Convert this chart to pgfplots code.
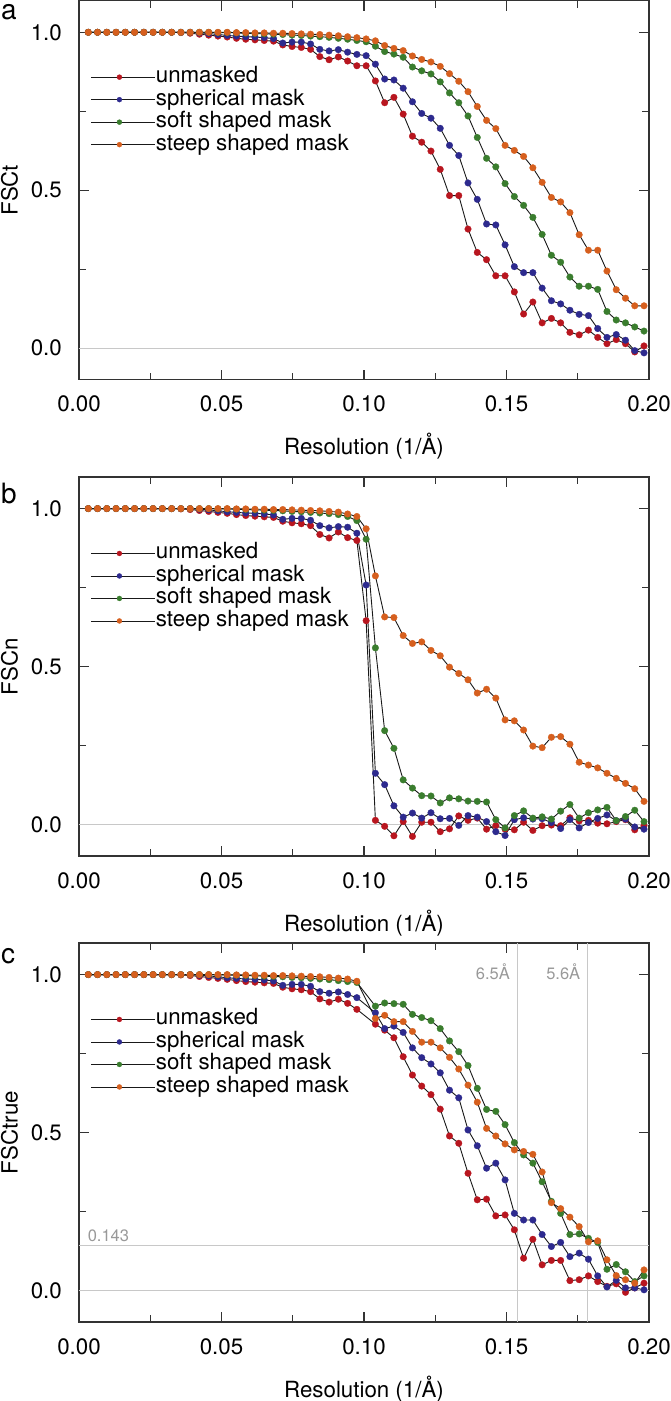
\documentclass[border=0pt]{standalone}
\usepackage{fontspec}
\setmainfont{TeX Gyre Heros}
\usepackage{pgfplots}
\usepackage{pgfplotstable}
\pgfplotsset{compat=1.18}
\definecolor{cred}{HTML}{B8161F}
\definecolor{cblue}{HTML}{2D2A8E}
\definecolor{cgreen}{HTML}{3A7D2E}
\definecolor{corange}{HTML}{D65F1E}
\definecolor{framec}{HTML}{333333}
\definecolor{refgray}{HTML}{C8C8C8}
\definecolor{labgray}{HTML}{999999}
\newcommand{\fs}{\fontsize{22.3pt}{26pt}\selectfont}
\newcommand{\fss}{\fontsize{16.5pt}{19pt}\selectfont}
\newcommand{\fsp}{\fontsize{28pt}{32pt}\selectfont}

% x = resolution (1/A); r = unmasked, b = spherical, g = soft shaped, o = steep shaped
\pgfplotstableread{
x r b g o
0.00325 1.000 1.000 1.000 1.000
0.00650 1.000 1.000 1.000 1.000
0.00975 1.000 1.000 1.000 1.000
0.01300 1.000 1.000 1.000 1.000
0.01625 1.000 1.000 1.000 1.000
0.01950 1.000 1.000 1.000 1.000
0.02275 1.000 1.000 1.000 1.000
0.02600 1.000 1.000 1.000 1.000
0.02925 1.000 1.000 1.000 1.000
0.03250 1.000 1.000 1.000 1.000
0.03575 0.999 1.000 1.000 1.000
0.03900 0.997 1.000 1.000 1.000
0.04225 0.994 0.998 1.000 1.000
0.04550 0.991 0.996 1.000 1.000
0.04875 0.988 0.993 0.999 1.000
0.05200 0.985 0.990 0.999 1.000
0.05525 0.981 0.988 0.998 0.999
0.05850 0.978 0.986 0.997 0.999
0.06175 0.976 0.985 0.996 0.998
0.06500 0.974 0.983 0.995 0.998
0.06825 0.972 0.980 0.994 0.997
0.07150 0.960 0.966 0.993 0.997
0.07475 0.955 0.969 0.991 0.996
0.07800 0.952 0.969 0.990 0.995
0.08125 0.946 0.963 0.988 0.994
0.08450 0.923 0.946 0.986 0.993
0.08775 0.913 0.941 0.984 0.991
0.09100 0.922 0.945 0.981 0.989
0.09425 0.909 0.937 0.978 0.986
0.09750 0.894 0.930 0.974 0.983
0.10075 0.894 0.926 0.970 0.979
0.10400 0.846 0.899 0.956 0.973
0.10725 0.777 0.852 0.939 0.958
0.11050 0.794 0.849 0.931 0.949
0.11375 0.741 0.823 0.921 0.942
0.11700 0.671 0.780 0.890 0.925
0.12025 0.652 0.743 0.878 0.914
0.12350 0.624 0.728 0.868 0.906
0.12675 0.566 0.696 0.843 0.892
0.13000 0.483 0.642 0.808 0.869
0.13325 0.483 0.610 0.777 0.845
0.13650 0.377 0.523 0.735 0.812
0.13975 0.303 0.471 0.667 0.765
0.14300 0.280 0.393 0.601 0.721
0.14625 0.229 0.390 0.574 0.695
0.14950 0.229 0.327 0.521 0.642
0.15275 0.178 0.258 0.480 0.626
0.15600 0.108 0.239 0.452 0.607
0.15925 0.146 0.239 0.414 0.571
0.16250 0.080 0.190 0.360 0.525
0.16575 0.094 0.150 0.294 0.477
0.16900 0.080 0.140 0.272 0.463
0.17225 0.050 0.120 0.225 0.429
0.17550 0.042 0.107 0.196 0.359
0.17875 0.057 0.103 0.196 0.310
0.18200 0.034 0.062 0.186 0.310
0.18525 0.014 0.034 0.116 0.244
0.18850 0.027 0.043 0.089 0.185
0.19175 0.014 0.025 0.080 0.158
0.19500 -0.012 -0.008 0.067 0.134
0.19825 0.007 -0.015 0.054 0.134
}\tabA

\pgfplotstableread{
x r b g o
0.00325 1.000 1.000 1.000 1.000
0.00650 1.000 1.000 1.000 1.000
0.00975 1.000 1.000 1.000 1.000
0.01300 1.000 1.000 1.000 1.000
0.01625 1.000 1.000 1.000 1.000
0.01950 1.000 1.000 1.000 1.000
0.02275 1.000 1.000 1.000 1.000
0.02600 1.000 1.000 1.000 1.000
0.02925 1.000 1.000 1.000 1.000
0.03250 1.000 1.000 1.000 1.000
0.03575 0.999 1.000 1.000 1.000
0.03900 0.997 1.000 1.000 1.000
0.04225 0.994 0.998 1.000 1.000
0.04550 0.991 0.996 1.000 1.000
0.04875 0.988 0.993 0.999 1.000
0.05200 0.985 0.990 0.999 1.000
0.05525 0.981 0.988 0.998 0.999
0.05850 0.978 0.986 0.997 0.999
0.06175 0.976 0.985 0.996 0.998
0.06500 0.974 0.983 0.995 0.998
0.06825 0.972 0.980 0.994 0.997
0.07150 0.960 0.966 0.993 0.997
0.07475 0.955 0.969 0.991 0.996
0.07800 0.952 0.969 0.990 0.995
0.08125 0.946 0.963 0.988 0.994
0.08450 0.918 0.946 0.986 0.993
0.08775 0.907 0.939 0.984 0.991
0.09100 0.926 0.943 0.981 0.989
0.09425 0.908 0.941 0.975 0.983
0.09750 0.899 0.922 0.962 0.975
0.10075 0.645 0.758 0.903 0.936
0.10400 0.013 0.162 0.559 0.787
0.10725 -0.006 0.126 0.297 0.657
0.11050 -0.036 0.059 0.241 0.655
0.11375 0.009 0.023 0.141 0.598
0.11700 -0.038 0.036 0.115 0.573
0.12025 0.007 0.020 0.091 0.578
0.12350 0.007 0.037 0.090 0.551
0.12675 -0.023 0.018 0.068 0.534
0.13000 -0.014 0.019 0.084 0.498
0.13325 0.027 -0.003 0.081 0.478
0.13650 0.013 0.028 0.074 0.458
0.13975 0.020 0.023 0.073 0.416
0.14300 -0.015 0.009 0.071 0.428
0.14625 -0.004 -0.023 0.015 0.400
0.14950 -0.015 -0.035 -0.011 0.331
0.15275 -0.017 0.015 0.028 0.328
0.15600 0.007 0.021 0.043 0.299
0.15925 -0.019 0.017 0.020 0.248
0.16250 -0.004 0.018 0.024 0.243
0.16575 -0.002 0.006 0.017 0.276
0.16900 -0.004 -0.013 0.042 0.278
0.17225 0.021 0.015 0.063 0.254
0.17550 0.011 -0.011 0.020 0.197
0.17875 0.013 0.006 0.037 0.188
0.18200 0.004 0.019 0.046 0.179
0.18525 0.002 0.030 0.054 0.162
0.18850 0.009 0.012 0.012 0.146
0.19175 0.015 0.017 0.025 0.130
0.19500 -0.017 -0.008 0.045 0.113
0.19825 -0.004 -0.015 0.009 0.073
}\tabB

\pgfplotstableread{
x r b g o
0.00325 1.000 1.000 1.000 1.000
0.00650 1.000 1.000 1.000 1.000
0.00975 1.000 1.000 1.000 1.000
0.01300 1.000 1.000 1.000 1.000
0.01625 1.000 1.000 1.000 1.000
0.01950 1.000 1.000 1.000 1.000
0.02275 1.000 1.000 1.000 1.000
0.02600 1.000 1.000 1.000 1.000
0.02925 1.000 1.000 1.000 1.000
0.03250 1.000 1.000 1.000 1.000
0.03575 0.999 1.000 1.000 1.000
0.03900 0.997 1.000 1.000 1.000
0.04225 0.994 0.998 1.000 1.000
0.04550 0.991 0.996 1.000 1.000
0.04875 0.988 0.993 0.999 1.000
0.05200 0.985 0.990 0.999 1.000
0.05525 0.981 0.988 0.998 0.999
0.05850 0.978 0.986 0.997 0.999
0.06175 0.976 0.985 0.996 0.998
0.06500 0.974 0.983 0.995 0.998
0.06825 0.972 0.980 0.994 0.997
0.07150 0.960 0.966 0.993 0.997
0.07475 0.955 0.969 0.991 0.996
0.07800 0.952 0.969 0.990 0.995
0.08125 0.946 0.963 0.988 0.994
0.08450 0.923 0.946 0.986 0.993
0.08775 0.913 0.941 0.984 0.991
0.09100 0.922 0.945 0.981 0.989
0.09425 0.909 0.937 0.978 0.986
0.09750 0.890 0.927 0.975 0.979
0.10400 0.843 0.879 0.900 0.861
0.10725 0.824 0.829 0.910 0.871
0.11050 0.800 0.837 0.908 0.851
0.11375 0.740 0.817 0.906 0.851
0.11700 0.682 0.768 0.874 0.820
0.12025 0.647 0.737 0.864 0.786
0.12350 0.620 0.717 0.854 0.786
0.12675 0.574 0.689 0.829 0.768
0.13000 0.489 0.634 0.790 0.738
0.13325 0.466 0.610 0.756 0.701
0.13650 0.371 0.508 0.712 0.650
0.13975 0.287 0.458 0.640 0.596
0.14300 0.289 0.387 0.573 0.513
0.14625 0.236 0.403 0.567 0.489
0.14950 0.239 0.350 0.525 0.464
0.15275 0.192 0.244 0.468 0.445
0.15600 0.102 0.223 0.429 0.440
0.15925 0.162 0.223 0.403 0.431
0.16250 0.081 0.177 0.344 0.375
0.16575 0.095 0.139 0.282 0.278
0.16900 0.095 0.152 0.244 0.259
0.17225 0.031 0.107 0.177 0.232
0.17550 0.034 0.118 0.179 0.202
0.17875 0.046 0.099 0.165 0.154
0.18200 0.028 0.046 0.152 0.157
0.18525 0.013 0.011 0.067 0.097
0.18850 0.021 0.032 0.082 0.047
0.19175 -0.006 0.008 0.059 0.034
0.19500 0.008 0.008 0.028 0.023
0.19825 0.023 0.002 0.046 0.065
}\tabC

\pgfplotsset{
  fsc/.style={
    width=570pt, height=379pt, scale only axis,
    xmin=0, xmax=0.2, ymin=-0.1, ymax=1.1,
    scaled ticks=false,
    xtick={0,0.05,0.1,0.15,0.2},
    minor xtick={0.025,0.075,0.125,0.175},
    ytick={0,0.5,1}, minor ytick={0.25,0.75},
    tick align=inside,
    major tick length=10pt, minor tick length=7pt,
    every tick/.style={framec, line width=1.2pt},
    axis line style={framec, line width=1.5pt},
    /pgf/number format/assume math mode=true,
    xticklabel style={font=\fs, /pgf/number format/.cd, fixed, fixed zerofill, precision=2, /tikz/.cd, inner sep=0pt, anchor=base, yshift=-32pt},
    yticklabel style={font=\fs, /pgf/number format/.cd, fixed, fixed zerofill, precision=1, /tikz/.cd, inner sep=0pt, anchor=east, xshift=-17pt},
    xlabel={Resolution (1/Å)},
    xlabel style={font=\fs, inner sep=0pt, anchor=base, at={(axis description cs:0.5,0)}, yshift=-75pt},
    ylabel style={font=\fs, inner sep=0pt, anchor=center, at={(axis description cs:-0.1218,0.5)}},
    legend style={at={(axis description cs:0.021,0.826)}, anchor=north west, draw=none, fill=none,
      inner sep=0pt, outer sep=0pt, font=\fs, row sep=1.5pt,
      nodes={inner sep=0pt, text height=16pt, text depth=5pt}},
    legend cell align=left,
    legend image code/.code={%
      \path (0pt,0pt) -- (64pt,0pt);
      \draw[black!90, line width=0.9pt] (0pt,0pt) -- (56pt,0pt);
      \draw[#1, mark size=2.5pt] plot coordinates {(28pt,0pt)};},
  },
  ser/.style={black!90, line width=0.9pt, mark=*, mark size=3.3pt, mark options={solid, fill=#1, draw=#1, line width=0.3pt}},
}

\begin{document}
\begin{tikzpicture}
\useasboundingbox (0,0) rectangle (670pt,-1401pt);

% ---------- a ----------
\begin{axis}[fsc, at={(79pt,-0.7pt)}, anchor=north west, ylabel={FSCt}]
\addplot[refgray, line width=1pt, forget plot] coordinates {(0,0) (0.2,0)};
\addplot[ser=cred] table[x=x, y=r] {\tabA};
\addplot[ser=cblue] table[x=x, y=b] {\tabA};
\addplot[ser=cgreen] table[x=x, y=g] {\tabA};
\addplot[ser=corange] table[x=x, y=o] {\tabA};
\legend{unmasked, spherical mask, soft shaped mask, steep shaped mask}
\end{axis}

% ---------- b ----------
\begin{axis}[fsc, at={(79pt,-477pt)}, anchor=north west, ylabel={FSCn}]
\addplot[refgray, line width=1pt, forget plot] coordinates {(0,0) (0.2,0)};
\addplot[ser=cred] table[x=x, y=r] {\tabB};
\addplot[ser=cblue] table[x=x, y=b] {\tabB};
\addplot[ser=cgreen] table[x=x, y=g] {\tabB};
\addplot[ser=corange] table[x=x, y=o] {\tabB};
\legend{unmasked, spherical mask, soft shaped mask, steep shaped mask}
\end{axis}

% ---------- c ----------
\begin{axis}[fsc, at={(79pt,-943pt)}, anchor=north west, ylabel={FSCtrue}]
\addplot[refgray, line width=1pt, forget plot] coordinates {(0,0) (0.2,0)};
\addplot[refgray, line width=1pt, forget plot] coordinates {(0,0.143) (0.2,0.143)};
\addplot[refgray, line width=1pt, forget plot] coordinates {(0.15385,-0.1) (0.15385,1.1)};
\addplot[refgray, line width=1pt, forget plot] coordinates {(0.17857,-0.1) (0.17857,1.1)};
\node[labgray, font=\fss, inner sep=0pt, anchor=base east, xshift=-7.5pt, yshift=-5pt] at (axis cs:0.15385,1) {6.5Å};
\node[labgray, font=\fss, inner sep=0pt, anchor=base east, xshift=-7.5pt, yshift=-5pt] at (axis cs:0.17857,1) {5.6Å};
\node[labgray, font=\fss, inner sep=0pt, anchor=base west, xshift=8.6pt, yshift=3.3pt] at (axis cs:0,0.143) {0.143};
\addplot[ser=cred] table[x=x, y=r] {\tabC};
\addplot[ser=cblue] table[x=x, y=b] {\tabC};
\addplot[ser=cgreen] table[x=x, y=g] {\tabC};
\addplot[ser=corange] table[x=x, y=o] {\tabC};
\legend{unmasked, spherical mask, soft shaped mask, steep shaped mask}
\end{axis}

\node[font=\fsp, inner sep=0pt, anchor=base west] at (1pt,-19.5pt) {a};
\node[font=\fsp, inner sep=0pt, anchor=base west] at (1pt,-503pt) {b};
\node[font=\fsp, inner sep=0pt, anchor=base west] at (1pt,-963pt) {c};
\end{tikzpicture}
\end{document}
